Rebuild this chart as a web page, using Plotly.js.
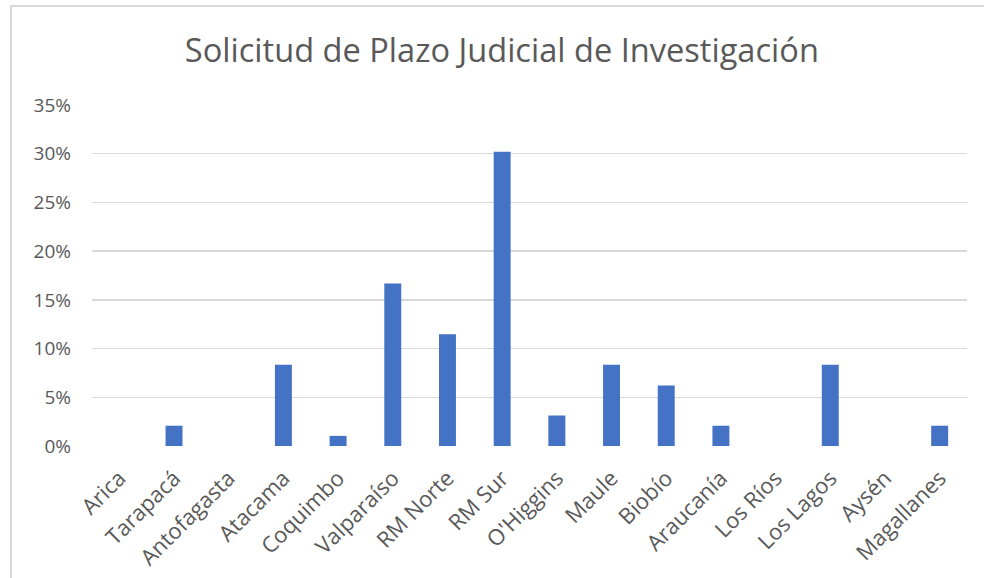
<!DOCTYPE html>
<html>
<head>
<meta charset="utf-8">
<script src="https://cdn.plot.ly/plotly-3.0.1.min.js"></script>
<style>
  html, body { margin: 0; padding: 0; background: #fff; }
  #wrap { position: relative; width: 984px; height: 578px; overflow: hidden; }
  #chart { position: absolute; left: 0; top: 0; width: 984px; height: 578px; }
  #frame { position: absolute; left: 10px; top: 5px; width: 1000px; height: 600px;
           border-left: 2px solid #d9d9d9; border-top: 2px solid #d9d9d9; pointer-events: none; }
</style>
</head>
<body>
<div id="wrap">
  <div id="chart"></div>
  <div id="frame"></div>
</div>
<script>
const chartTitle = "Solicitud de Plazo Judicial de Investigación";
const regions = ["Arica", "Tarapacá", "Antofagasta", "Atacama", "Coquimbo", "Valparaíso",
  "RM Norte", "RM Sur", "O'Higgins", "Maule", "Biobío", "Araucanía", "Los Ríos",
  "Los Lagos", "Aysén", "Magallanes"];
const shares = [0, 0.0208, 0, 0.0833, 0.0104, 0.1667, 0.1146, 0.3021, 0.0313, 0.0833,
  0.062, 0.0208, 0, 0.0833, 0, 0.0208];
const yTicks = [0, 0.05, 0.10, 0.15, 0.20, 0.25, 0.30, 0.35];

const fontFam = "Open Sans, Liberation Sans, sans-serif";
const textCol = "#595959";

Plotly.newPlot("chart", [{
  type: "bar",
  x: regions,
  y: shares,
  marker: { color: "#4472C4" },
  hoverinfo: "x+y"
}], {
  width: 984, height: 578,
  paper_bgcolor: "#ffffff", plot_bgcolor: "#ffffff",
  margin: { l: 92, r: 17, t: 105, b: 132 },
  bargap: 0.69,
  showlegend: false,
  title: {
    text: chartTitle,
    font: { family: fontFam, size: 32.6, color: textCol },
    x: 0.51, xanchor: "center", y: 0.913, yanchor: "middle"
  },
  xaxis: {
    type: "category",
    tickangle: -45,
    tickfont: { family: fontFam, size: 22, color: textCol },
    showgrid: false, zeroline: false, showline: false, ticks: "",
    ticklabelstandoff: 14
  },
  yaxis: {
    range: [0, 0.35],
    tickvals: yTicks,
    tickformat: ".0%",
    tickfont: { family: fontFam, size: 19, color: textCol },
    showgrid: true, gridcolor: "#d9d9d9", gridwidth: 1.5,
    zeroline: false, showline: false, ticks: "",
    ticklabelstandoff: 20
  }
}, { staticPlot: true });
</script>
</body>
</html>
